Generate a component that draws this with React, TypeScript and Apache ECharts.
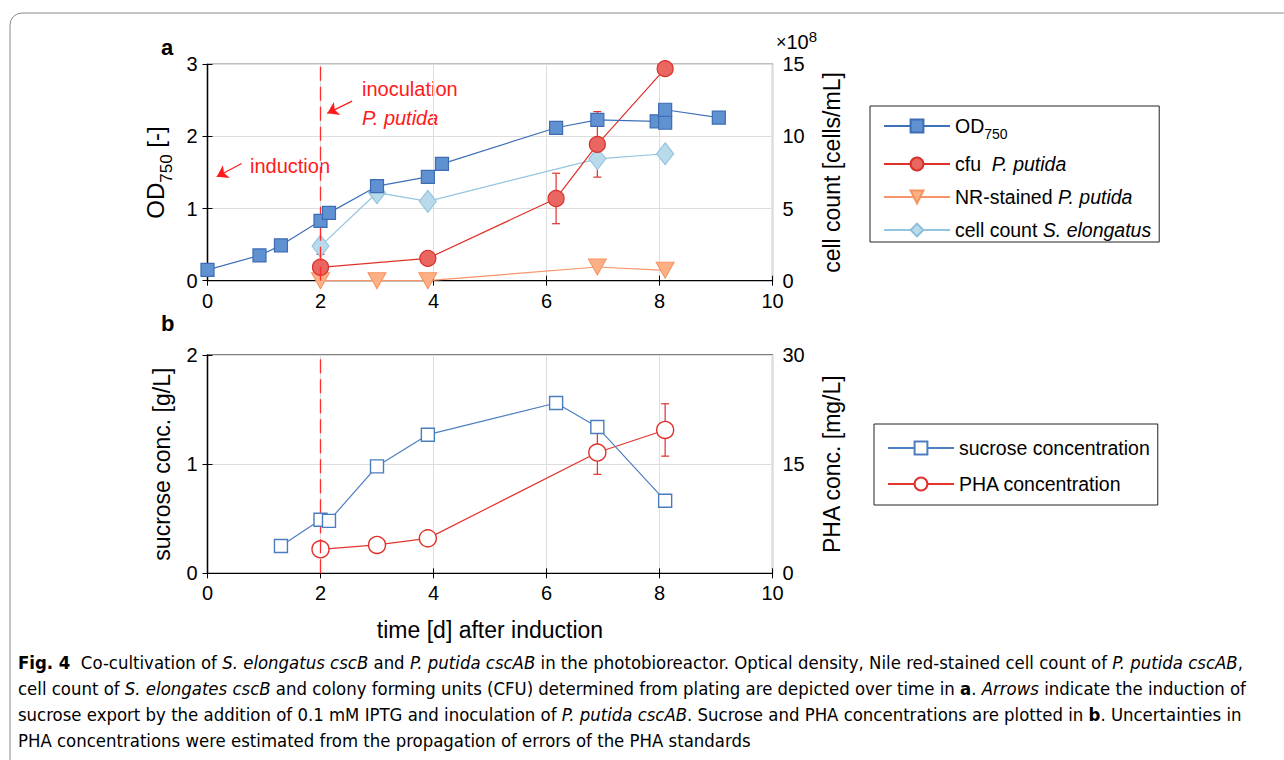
import React, { useEffect, useRef } from "react";
import * as echarts from "echarts";

// ---------- data ----------
const xTicks = [0, 2, 4, 6, 8, 10];

// panel a
const odX = [0, 0.92, 1.3, 2.0, 2.15, 3.0, 3.9, 4.15, 6.17, 6.9, 7.95, 8.1, 8.1, 9.05];
const odY = [0.15, 0.35, 0.49, 0.83, 0.94, 1.31, 1.44, 1.62, 2.12, 2.23, 2.21, 2.19, 2.37, 2.26];

const cfuX = [2.0, 3.9, 6.17, 6.9, 8.1];
const cfuY = [0.93, 1.55, 5.7, 9.45, 14.7];
const cfuErr = [0.9, 0, 1.75, 2.27, 0];

const nrX = [2.0, 3.0, 3.9, 6.9, 8.1];
const nrY = [0.0, 0.0, 0.0, 0.95, 0.72];

const selX = [2.0, 3.0, 3.9, 6.9, 8.1];
const selY = [2.4, 6.1, 5.5, 8.45, 8.8];
const selErr = [1.85, 0, 0, 0, 0];

// panel b
const sucX = [1.3, 2.0, 2.15, 3.0, 3.9, 6.17, 6.9, 8.1];
const sucY = [0.25, 0.49, 0.48, 0.98, 1.27, 1.56, 1.34, 0.665];

const phaX = [2.0, 3.0, 3.9, 6.9, 8.1];
const phaY = [3.3, 3.9, 4.8, 16.6, 19.7];
const phaErr = [0, 0, 0, 3.0, 3.6];

const inductionDay = 2;

const FONT = "'Liberation Sans', Arial, Helvetica, sans-serif";
const CAP_FONT = "'Liberation Sans Narrow', 'DejaVu Sans Condensed', 'Roboto Condensed', 'Liberation Sans', sans-serif";

const pairs = (xs: number[], ys: number[]) => xs.map((x, i) => [x, ys[i]]);

function errSeries(name: string, xs: number[], ys: number[], errs: number[], color: string, xi: number, yi: number) {
  const data = xs
    .map((x, i) => [x, ys[i] - errs[i], ys[i] + errs[i], errs[i]])
    .filter((d) => d[3] > 0);
  return {
    type: "custom",
    name,
    xAxisIndex: xi,
    yAxisIndex: yi,
    z: 1,
    silent: true,
    data,
    renderItem: (_p: any, api: any) => {
      const x = api.value(0);
      const lo = api.coord([x, api.value(1)]);
      const hi = api.coord([x, api.value(2)]);
      const w = 4;
      const st = { stroke: color, lineWidth: 1.2 };
      return {
        type: "group",
        children: [
          { type: "line", shape: { x1: lo[0], y1: lo[1], x2: hi[0], y2: hi[1] }, style: st },
          { type: "line", shape: { x1: lo[0] - w, y1: lo[1], x2: lo[0] + w, y2: lo[1] }, style: st },
          { type: "line", shape: { x1: hi[0] - w, y1: hi[1], x2: hi[0] + w, y2: hi[1] }, style: st },
        ],
      };
    },
  };
}

function xAxisPair(gridIndex: number, showLabels: boolean, withName: boolean) {
  const base = {
    type: "value",
    gridIndex,
    min: 0,
    max: 10,
    interval: 2,
    axisLine: { show: true, lineStyle: { color: "#000", width: 1.2 } },
    axisTick: { show: true, inside: true, length: 5, lineStyle: { color: "#000" } },
  };
  return [
    {
      ...base,
      position: "bottom",
      axisLabel: { show: showLabels, color: "#000", fontSize: 20, fontFamily: FONT, margin: 10 },
      splitLine: { show: true, lineStyle: { color: "#dedede", width: 1 } },
      name: withName ? "time [d] after induction" : "",
      nameLocation: "middle",
      nameGap: 45,
      nameTextStyle: { color: "#000", fontSize: 23, fontFamily: FONT },
    },
    {
      ...base,
      position: "top",
      axisLabel: { show: false },
      splitLine: { show: false },
    },
  ];
}

function yAxis(gridIndex: number, pos: string, max: number, interval: number, name: string, nameGap: number, split: boolean) {
  return {
    type: "value",
    gridIndex,
    position: pos,
    min: 0,
    max,
    interval,
    axisLine: { show: true, lineStyle: { color: "#000", width: 1.2 } },
    axisTick: { show: true, inside: true, length: 5, lineStyle: { color: "#000" } },
    axisLabel: { color: "#000", fontSize: 20, fontFamily: FONT, margin: 10 },
    splitLine: { show: split, lineStyle: { color: "#dedede", width: 1 } },
    name,
    nameLocation: "middle",
    nameRotate: 90,
    nameGap,
    nameTextStyle: {
      color: "#000",
      fontSize: 23,
      fontFamily: FONT,
      rich: {
        t: { fontSize: 24, fontFamily: FONT, color: "#000" },
        s: { fontSize: 17, fontFamily: FONT, color: "#000", padding: [22, 0, 0, 0] },
      },
    },
  };
}

const legendRich = {
  t: { fontSize: 19.5, fontFamily: FONT, color: "#000" },
  s: { fontSize: 14, fontFamily: FONT, color: "#000", padding: [16, 0, 0, 0] },
  i: { fontSize: 19.5, fontFamily: FONT, color: "#000", fontStyle: "italic" },
};

const legendNames: Record<string, string> = {
  OD750: "{t|OD}{s|750}",
  "cfu P. putida": "{t|cfu  }{i|P. putida}",
  "NR-stained P. putida": "{t|NR-stained }{i|P. putida}",
  "cell count S. elongatus": "{t|cell count }{i|S. elongatus}",
  "sucrose concentration": "{t|sucrose concentration}",
  "PHA concentration": "{t|PHA concentration}",
};

const capLines = [
  "{b|Fig. 4}{r|  Co-cultivation of }{i|S. elongatus cscB}{r| and }{i|P. putida cscAB}{r| in the photobioreactor. Optical density, Nile red-stained cell count of }{i|P. putida cscAB}{r|,}",
  "{r|cell count of }{i|S. elongates cscB}{r| and colony forming units (CFU) determined from plating are depicted over time in }{b|a}{r|. }{i|Arrows}{r| indicate the induction of}",
  "{r|sucrose export by the addition of 0.1 mM IPTG and inoculation of }{i|P. putida cscAB}{r|. Sucrose and PHA concentrations are plotted in }{b|b}{r|. Uncertainties in}",
  "{r|PHA concentrations were estimated from the propagation of errors of the PHA standards}",
];

export default function App() {
  const ref = useRef<HTMLDivElement>(null);

  useEffect(() => {
    if (!ref.current) return;
    const chart = echarts.init(ref.current, undefined, { renderer: "svg" });

    const CS = 18.4;
    const capRich = {
      r: { fontSize: CS, fontFamily: CAP_FONT, color: "#231f20" },
      i: { fontSize: CS, fontFamily: CAP_FONT, color: "#231f20", fontStyle: "italic" },
      b: { fontSize: CS, fontFamily: CAP_FONT, color: "#231f20", fontWeight: "bold" },
    };

    const option: any = {
      animation: false,
      backgroundColor: "#fff",
      textStyle: { fontFamily: FONT },
      grid: [
        { left: 207.5, top: 64.3, width: 565, height: 216.4, show: true, borderColor: "#000", borderWidth: 1.2, backgroundColor: "transparent" },
        { left: 207.5, top: 355, width: 565, height: 218.3, show: true, borderColor: "#000", borderWidth: 1.2, backgroundColor: "transparent" },
      ],
      xAxis: [...xAxisPair(0, true, false), ...xAxisPair(1, true, true)],
      yAxis: [
        { ...yAxis(0, "left", 3, 1, "{t|OD}{s|750}{t| [-]}", 33, true) },
        { ...yAxis(0, "right", 15, 5, "cell count [cells/mL]", 48, false) },
        { ...yAxis(1, "left", 2, 1, "sucrose conc. [g/L]", 34, true) },
        { ...yAxis(1, "right", 30, 15, "PHA conc. [mg/L]", 48, false) },
      ],
      legend: [
        {
          data: ["OD750", "cfu P. putida", "NR-stained P. putida", "cell count S. elongatus"],
          orient: "vertical",
          left: 870,
          top: 106,
          padding: [10, 8, 2, 13],
          itemWidth: 66,
          itemHeight: 16,
          itemGap: 13,
          borderColor: "#222",
          borderWidth: 1,
          backgroundColor: "#fff",
          formatter: (n: string) => legendNames[n] || n,
          textStyle: { fontSize: 19.5, fontFamily: FONT, color: "#000", rich: legendRich },
          selectedMode: false,
        },
        {
          data: ["sucrose concentration", "PHA concentration"],
          orient: "vertical",
          left: 874,
          top: 424,
          padding: [14, 8, 11, 13],
          itemWidth: 66,
          itemHeight: 16,
          itemGap: 16,
          borderColor: "#222",
          borderWidth: 1,
          backgroundColor: "#fff",
          formatter: (n: string) => legendNames[n] || n,
          textStyle: { fontSize: 19.5, fontFamily: FONT, color: "#000", rich: legendRich },
          selectedMode: false,
        },
      ],
      series: [
        errSeries("err-cfu", cfuX, cfuY, cfuErr, "#e0302a", 0, 1),
        errSeries("err-sel", selX, selY, selErr, "#9cc6e0", 0, 1),
        errSeries("err-pha", phaX, phaY, phaErr, "#e0302a", 2, 3),
        {
          type: "line",
          name: "NR-stained P. putida",
          xAxisIndex: 0,
          yAxisIndex: 1,
          data: pairs(nrX, nrY),
          symbol: "triangle",
          symbolRotate: 180,
          symbolSize: [18, 16],
          lineStyle: { color: "#f8946a", width: 1.2 },
          itemStyle: { color: "#fdb083", borderColor: "#f6925f", borderWidth: 1 },
          z: 2,
          markLine: {
            silent: true,
            symbol: "none",
            label: { show: false },
            lineStyle: { color: "#ff2a2a", type: [14, 6], width: 1.3 },
            data: [{ xAxis: inductionDay }],
          },
        },
        {
          type: "line",
          name: "cell count S. elongatus",
          xAxisIndex: 0,
          yAxisIndex: 1,
          data: pairs(selX, selY),
          symbol: "diamond",
          symbolSize: [17, 22],
          lineStyle: { color: "#93c4e1", width: 1.2 },
          itemStyle: { color: "#b9daeb", borderColor: "#8dbedc", borderWidth: 1 },
          z: 3,
        },
        {
          type: "line",
          name: "cfu P. putida",
          xAxisIndex: 0,
          yAxisIndex: 1,
          data: pairs(cfuX, cfuY),
          symbol: "circle",
          symbolSize: 16,
          lineStyle: { color: "#e0302a", width: 1.2 },
          itemStyle: { color: "#ea6660", borderColor: "#d8312b", borderWidth: 1.2 },
          z: 4,
        },
        {
          type: "line",
          name: "OD750",
          xAxisIndex: 0,
          yAxisIndex: 0,
          data: pairs(odX, odY),
          symbol: "rect",
          symbolSize: 13,
          lineStyle: { color: "#3f70ba", width: 1.2 },
          itemStyle: { color: "#6091d1", borderColor: "#3d6cb5", borderWidth: 1.2 },
          z: 5,
          markLine: {
            silent: true,
            symbol: ["none", "arrow"],
            symbolSize: 11,
            label: { show: false },
            lineStyle: { color: "#ff1a1a", type: "solid", width: 1.2 },
            data: [
              [{ coord: [0.605, 1.626] }, { coord: [0.163, 1.44] }],
              [{ coord: [2.56, 2.49] }, { coord: [2.12, 2.32] }],
            ],
          },
        },
        {
          type: "line",
          name: "sucrose concentration",
          xAxisIndex: 2,
          yAxisIndex: 2,
          data: pairs(sucX, sucY),
          symbol: "rect",
          symbolSize: 13,
          lineStyle: { color: "#4c7ec2", width: 1.2 },
          itemStyle: { color: "#fff", borderColor: "#4a7cc0", borderWidth: 1.4 },
          z: 5,
          markLine: {
            silent: true,
            symbol: "none",
            label: { show: false },
            lineStyle: { color: "#ff2a2a", type: [14, 6], width: 1.3 },
            data: [{ xAxis: inductionDay }],
          },
        },
        {
          type: "line",
          name: "PHA concentration",
          xAxisIndex: 2,
          yAxisIndex: 3,
          data: pairs(phaX, phaY),
          symbol: "circle",
          symbolSize: 17,
          lineStyle: { color: "#e3342d", width: 1.2 },
          itemStyle: { color: "#fff", borderColor: "#e0302a", borderWidth: 1.4 },
          z: 4,
        },
      ],
      graphic: [
        {
          type: "rect",
          shape: { x: 10, y: 13, width: 1320, height: 800, r: 12 },
          style: { fill: "none", stroke: "#8a8a8a", lineWidth: 1 },
          z: -10,
          silent: true,
        },
        { type: "text", left: 161, top: 36, style: { text: "a", fontSize: 22, fontWeight: "bold", fontFamily: FONT, fill: "#000" } },
        { type: "text", left: 161, top: 312, style: { text: "b", fontSize: 22, fontWeight: "bold", fontFamily: FONT, fill: "#000" } },
        { type: "text", x: 250, y: 166, style: { text: "induction", fontSize: 20, fontFamily: FONT, fill: "#ff1a1a", verticalAlign: "middle" } },
        { type: "text", x: 362, y: 89, style: { text: "inoculation", fontSize: 20, fontFamily: FONT, fill: "#ff1a1a", verticalAlign: "middle" } },
        { type: "text", x: 362, y: 118, style: { text: "P. putida", fontSize: 20, fontStyle: "italic", fontFamily: FONT, fill: "#ff1a1a", verticalAlign: "middle" } },
        {
          type: "text",
          x: 776,
          y: 42,
          style: {
            text: "{x|×}{a|10}{p|8}",
            verticalAlign: "middle",
            rich: {
              x: { fontSize: 18, fontFamily: FONT, fill: "#000" },
              a: { fontSize: 20, fontFamily: FONT, fill: "#000" },
              p: { fontSize: 15, fontFamily: FONT, fill: "#000", padding: [0, 0, 12, 0] },
            },
          },
        },
        ...capLines.map((t, i) => ({
          type: "text",
          x: 18,
          y: 662 + i * 26,
          style: { text: t, verticalAlign: "middle", rich: capRich },
        })),
      ],
    };

    chart.setOption(option);
    return () => chart.dispose();
  }, []);

  return (
    <div
      ref={ref}
      style={{ position: "absolute", left: 0, top: 0, width: 1284, height: 760, background: "#fff" }}
    />
  );
}
